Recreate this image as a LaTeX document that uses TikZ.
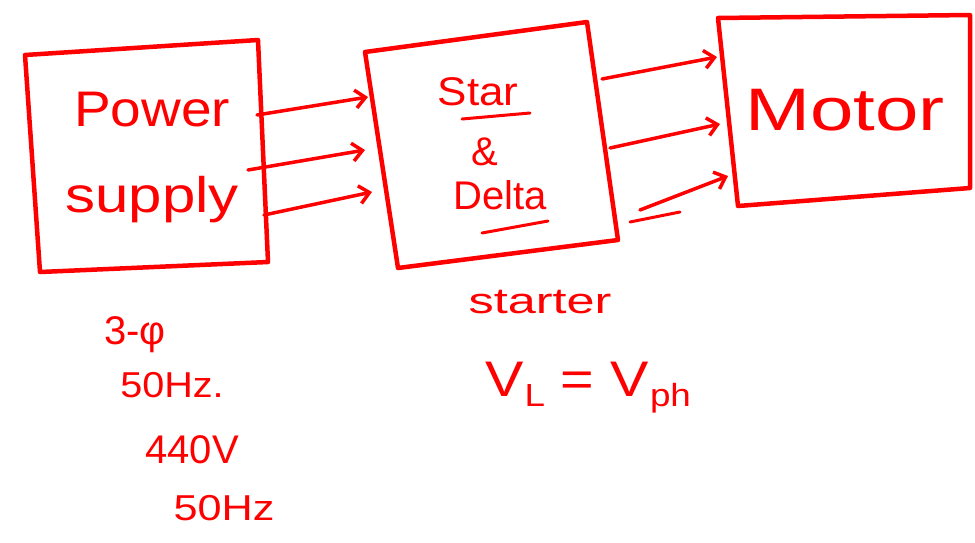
\documentclass[tikz,border=0pt]{standalone}
\usepackage{fontspec}
\setmainfont{Liberation Sans}
\usetikzlibrary{arrows.meta}
\definecolor{ink}{RGB}{255,0,0}
\newcommand{\widetxt}[2]{\scalebox{#1}[1]{#2}}
\begin{document}
\begin{tikzpicture}[x=1pt,y=-1pt,
  box/.style={draw=ink,line width=4.5pt,line join=round,line cap=round},
  wire/.style={draw=ink,line width=3.5pt,line cap=round,-{Straight Barb[length=10pt,width=18pt,line width=3.5pt]}},
  stroke/.style={draw=ink,line width=3pt,line cap=round},
  hand/.style={text=ink,inner sep=0pt},
  huge/.style={hand,font=\fontsize{60}{64}\selectfont},
  big/.style={hand,font=\fontsize{50}{54}\selectfont},
  mid/.style={hand,font=\fontsize{40}{44}\selectfont},
  sml/.style={hand,font=\fontsize{36}{40}\selectfont}]
\useasboundingbox (0,0) rectangle (975,542);
% boxes
\coordinate (p1) at (25,55); \coordinate (p2) at (258,40);
\coordinate (p3) at (268,262); \coordinate (p4) at (40,272);
\draw[box] (p1) -- (p2) -- (p3) -- (p4) -- cycle;
\coordinate (s1) at (365,52); \coordinate (s2) at (587,22);
\coordinate (s3) at (618,240); \coordinate (s4) at (398,268);
\draw[box] (s1) -- (s2) -- (s3) -- (s4) -- cycle;
\coordinate (m1) at (718,18); \coordinate (m2) at (970,15);
\coordinate (m3) at (970,188); \coordinate (m4) at (738,206);
\draw[box] (m1) -- (m2) -- (m3) -- (m4) -- cycle;
% texts
\node[big] (pw) at (152,110) {\widetxt{1.1}{Power}};
\node[big] (sp) at (152,200) {\widetxt{1.2}{supply}};
\node[mid] (st) at (478,92) {\widetxt{1.1}{Star}};
\node[mid] (am) at (485,152) {\&};
\node[mid] (dl) at (500,195) {Delta};
\node[huge] (mo) at (845,110) {\widetxt{1.3}{Motor}};
\node[sml] (sr) at (540,302) {\widetxt{1.4}{starter}};
\node[big] (vl) at (588,388) {\widetxt{1.15}{V\kern1pt\raisebox{-10pt}{\fontsize{32}{34}\selectfont L} = V\kern1pt\raisebox{-10pt}{\fontsize{32}{34}\selectfont ph}}};
\node[mid] (t1) at (135,335) {3-φ};
\node[sml] (t2) at (172,385) {\widetxt{1.1}{50Hz.}};
\node[mid] (t3) at (192,450) {440V};
\node[sml] (t4) at (224,508) {\widetxt{1.2}{50Hz}};
% underlines
\coordinate (u1) at (462,119); \coordinate (u2) at (530,113);
\draw[stroke] (u1) -- (u2);
\coordinate (u3) at (482,233); \coordinate (u4) at (548,221);
\draw[stroke] (u3) -- (u4);
% arrows power -> starter
\coordinate (a1) at (257,115); \coordinate (b1) at (368,97);
\coordinate (a2) at (248,170); \coordinate (b2) at (365,150);
\coordinate (a3) at (264,215); \coordinate (b3) at (372,192);
\draw[wire] (a1) -- (b1);
\draw[wire] (a2) -- (b2);
\draw[wire] (a3) -- (b3);
% arrows starter -> motor
\coordinate (c1) at (602,79); \coordinate (d1) at (717,57);
\coordinate (c2) at (610,148); \coordinate (d2) at (720,124);
\coordinate (c3) at (640,210); \coordinate (d3) at (728,176);
\draw[wire] (c1) -- (d1);
\draw[wire] (c2) -- (d2);
\draw[wire] (c3) -- (d3);
\coordinate (e1) at (630,222); \coordinate (e2) at (680,212);
\draw[stroke] (e1) -- (e2);
\end{tikzpicture}
\end{document}
